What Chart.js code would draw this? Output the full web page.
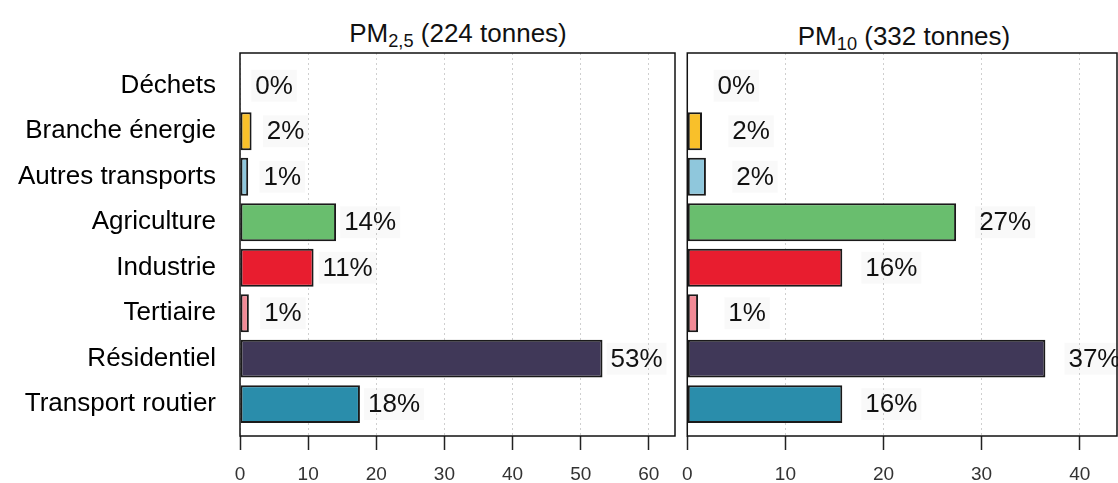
<!DOCTYPE html>
<html>
<head>
<meta charset="utf-8">
<script src="https://cdn.jsdelivr.net/npm/chart.js@4"></script>
<style>
  html, body { margin: 0; padding: 0; background: #fff; width: 1118px; height: 483px; overflow: hidden; }
  .wrap { position: relative; width: 1118px; height: 483px; overflow: hidden; }
  .panel { position: absolute; top: 0; height: 483px; }
  .title {
    position: absolute; top: 20px; font-family: "Liberation Sans", Arial, sans-serif;
    font-size: 26px; line-height: 26px; color: #111; white-space: nowrap; transform: translateX(-50%);
  }
  .title .sub { font-size: 0.7em; position: relative; top: 0.3em; }
</style>
</head>
<body>
<div class="wrap">
  <div class="title" style="left:458px">PM<span class="sub">2,5</span> (224 tonnes)</div>
  <div class="title" style="left:904px; top:23px">PM<span class="sub">10</span> (332 tonnes)</div>
  <div class="panel" style="left:0; width:682px"><canvas id="pm25Chart" width="682" height="483"></canvas></div>
  <div class="panel" style="left:669px; width:467px"><canvas id="pm10Chart" width="467" height="483"></canvas></div>
</div>
<script>
// --- données ---
const categories = ['Déchets', 'Branche énergie', 'Autres transports', 'Agriculture', 'Industrie', 'Tertiaire', 'Résidentiel', 'Transport routier'];
const pm25Values = [0, 1.7, 1.2, 14.1, 10.8, 1.3, 53.2, 17.6];
const pm10Values = [0, 1.5, 1.9, 27.4, 15.8, 1.1, 36.5, 15.8];
const pm25Ticks = [0, 10, 20, 30, 40, 50, 60];
const pm10Ticks = [0, 10, 20, 30, 40];
const barColors = ['#8c6f52', '#f9c02a', '#8fc7dc', '#69be6e', '#e81d2f', '#f28a96', '#403858', '#2a8dab'];

const FONT = '"Liberation Sans", Arial, sans-serif';

// cadre + étiquettes de valeur (xx%)
const boxAndLabels = {
    id: 'boxAndLabels',
    afterDatasetsDraw(chart) {
        const { ctx, chartArea: a, scales: { x, y } } = chart;
        const values = chart.data.datasets[0].data.map(d => d.x);
        ctx.save();
        ctx.font = '26px ' + FONT;
        ctx.textAlign = 'center';
        ctx.textBaseline = 'middle';
        values.forEach((v, i) => {
            const txt = Math.round(v) + '%';
            const px = x.getPixelForValue(v + 5);
            const py = y.getPixelForValue(i);
            const w = ctx.measureText(txt).width;
            ctx.fillStyle = 'rgba(0,0,0,0.025)';
            ctx.fillRect(px - w / 2 - 4, py - 16, w + 8, 32);
            ctx.fillStyle = '#111';
            ctx.fillText(txt, px, py + 1);
        });
        ctx.strokeStyle = '#111';
        ctx.lineWidth = 1.5;
        ctx.strokeRect(a.left, a.top, a.right - a.left, a.bottom - a.top);
        ctx.restore();
    }
};

function makeChart(id, values, ticks, showLabels, pad) {
    const ctx = document.getElementById(id).getContext('2d');
    return new Chart(ctx, {
        type: 'bar',
        data: {
            datasets: [{
                data: values.map((v, i) => ({ x: v, y: i })),
                backgroundColor: barColors,
                borderColor: '#1a1a1a', borderWidth: 2, borderSkipped: false,
                barPercentage: 0.833, categoryPercentage: 1
            }]
        },
        options: {
            indexAxis: 'y', responsive: false, animation: false,
            layout: { padding: { top: 53, left: 0, right: pad.right, bottom: 0 } },
            scales: {
                x: {
                    type: 'linear', min: 0, max: Math.max(...values) * 1.2,
                    afterBuildTicks: s => { s.ticks = ticks.map(t => ({ value: t })); },
                    afterFit: s => { s.height = 47; },
                    grid: {
                        color: '#cfcfcf', lineWidth: 1, tickLength: 14,
                        tickColor: '#222', tickWidth: 1.5, tickBorderDash: []
                    },
                    border: { display: false, dash: [2, 3] },
                    ticks: { color: '#333', padding: 13, font: { family: FONT, size: 19 }, maxRotation: 0 }
                },
                y: {
                    type: 'linear', reverse: true, min: -0.72, max: 7.7, offset: false,
                    afterBuildTicks: s => { s.ticks = categories.map((c, i) => ({ value: i })); },
                    afterFit: s => { s.width = pad.left; },
                    grid: { display: false, drawTicks: false, offset: false },
                    border: { display: false },
                    ticks: {
                        display: showLabels,
                        autoSkip: false, padding: 24, color: '#000',
                        font: { family: FONT, size: 26 },
                        callback: v => categories[v]
                    }
                }
            },
            plugins: { legend: { display: false }, tooltip: { enabled: false } }
        },
        plugins: [boxAndLabels]
    });
}

makeChart('pm25Chart', pm25Values, pm25Ticks, true, { left: 240, right: 7 });
makeChart('pm10Chart', pm10Values, pm10Ticks, false, { left: 10, right: 19 });
</script>
</body>
</html>
